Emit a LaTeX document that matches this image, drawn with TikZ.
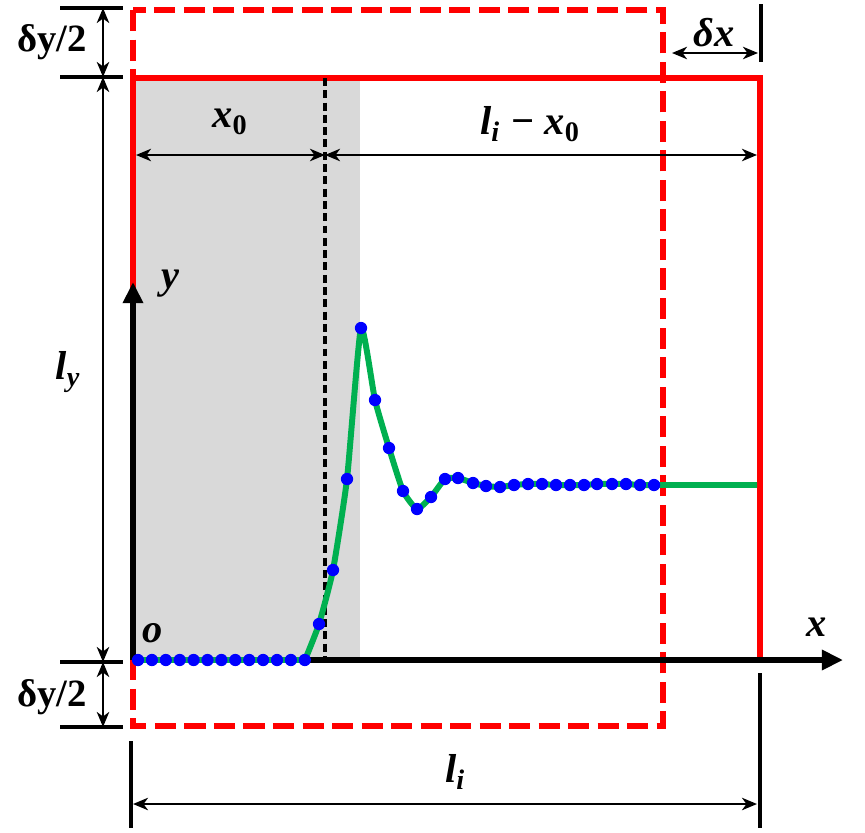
\documentclass[tikz,border=0pt]{standalone}
\usepackage{fontspec}
\setmainfont{Liberation Serif}
\usetikzlibrary{arrows.meta}

\definecolor{boxred}{RGB}{255,0,0}
\definecolor{curvegreen}{RGB}{0,176,80}
\definecolor{shadegray}{RGB}{217,217,217}

\tikzset{
  lab/.style={font=\fontsize{22}{26}\selectfont\bfseries},
  mlab/.style={font=\fontsize{23}{27}\selectfont\bfseries\itshape},
  dim/.style={{Stealth[length=8.5pt,width=7pt,inset=2.5pt]}-{Stealth[length=8.5pt,width=7pt,inset=2.5pt]}, line width=1.5pt},
  tick/.style={line width=2pt},
  axis/.style={line width=3pt, -{Triangle[length=12pt,width=11pt]}},
}

\begin{document}
\begin{tikzpicture}[x=0.02cm, y=-0.02cm]
  \useasboundingbox (0,0) rectangle (865,832);

  % corners of the boxes
  \coordinate (O) at (133,660);
  \coordinate (TL) at (133,78);
  \coordinate (TR) at (760,78);
  \coordinate (DTL) at (133,10);
  \coordinate (DBR) at (663,726);
  \coordinate (X0) at (325,78);
  \coordinate (X0b) at (325,660);

  % shaded part
  \fill[shadegray] (136,78) rectangle (360,660);

  % boxes
  \draw[boxred, line width=3.6pt] (TL) rectangle (760,660);
  \draw[boxred, line width=3.6pt, dash pattern=on 12pt off 4.8pt] (DTL) rectangle (DBR);

  % x0 position
  \draw[line width=2pt, dash pattern=on 4.5pt off 2.5pt] (X0) -- (X0b);

  % draw coordinate
  \coordinate (yend) at (133,282);
  \coordinate (xend) at (843,660);
  \draw[axis] (O) -- (yend);
  \draw[axis] (O) -- (xend);
  \node[mlab] (ylab) at (170,284) {y};
  \node[mlab] (xlab) at (817,627) {x};
  \node[mlab] (olab) at (153,633) {o};

  % the curve
  \draw[curvegreen, line width=3.4pt] (138,660) -- (305,660)
    plot[smooth, tension=0.3] coordinates {(305,660) (319,624) (333,570) (347,479)
      (361,328) (375,400) (389,448) (403,491) (417,509) (431,497) (445,479)
      (458,478) (473,483) (486,486) (500,487) (514,485) (528,484) (542,484)
      (556,485) (570,485) (584,485) (597,484) (612,484) (626,484) (640,485)
      (654,485)} -- (757,485);

  % points
  \foreach \k in {0,...,12}
    \fill[blue] ({138+13.9*\k},660) circle (3.5pt);
  \foreach \px/\py in {319/624, 333/570, 347/479, 361/328, 375/400, 389/448,
      403/491, 417/509, 431/497, 445/479, 458/478, 473/483, 486/486, 500/487,
      514/485, 528/484, 542/484, 556/485, 570/485, 584/485, 597/484, 612/484,
      626/484, 640/485, 654/485}
    \fill[blue] (\px,\py) circle (3.5pt);

  % left dimensions
  \coordinate (t1) at (103,8);
  \coordinate (t2) at (103,77);
  \coordinate (t3) at (103,662);
  \coordinate (t4) at (103,727);
  \draw[tick] (60,8) -- (123,8);
  \draw[tick] (60,77) -- (123,77);
  \draw[tick] (60,662) -- (123,662);
  \draw[tick] (60,727) -- (123,727);
  \draw[dim] (t1) -- (t2);
  \draw[dim] (t2) -- (t3);
  \draw[dim] (t3) -- (t4);
  \node[lab] (dyt) at (52,42) {δy/2};
  \node[mlab] (ly) at (68,372) {l\textsubscript{y}};
  \node[lab] (dyb) at (52,697) {δy/2};

  % top dimensions
  \coordinate (a1) at (136,155);
  \coordinate (a2) at (325,155);
  \coordinate (a3) at (757,155);
  \draw[dim] (a1) -- (a2);
  \draw[dim] (a2) -- (a3);
  \node[mlab] (x0lab) at (230,122) {x\textsubscript{\upshape 0}};
  \node[mlab] (lilab) at (530,124) {l\textsubscript{i} − x\textsubscript{\upshape 0}};

  % delta x
  \draw[tick] (761,4) -- (761,62);
  \coordinate (dx1) at (672,53);
  \coordinate (dx2) at (758,53);
  \draw[dim] (dx1) -- (dx2);
  \node[mlab] (dxlab) at (714,33) {δx};

  % bottom dimension
  \draw[tick] (131,741) -- (131,828);
  \draw[tick] (760,673) -- (760,828);
  \coordinate (b1) at (133,804);
  \coordinate (b2) at (757,804);
  \draw[dim] (b1) -- (b2);
  \node[mlab] (lilow) at (455,772) {l\textsubscript{i}};
\end{tikzpicture}
\end{document}
